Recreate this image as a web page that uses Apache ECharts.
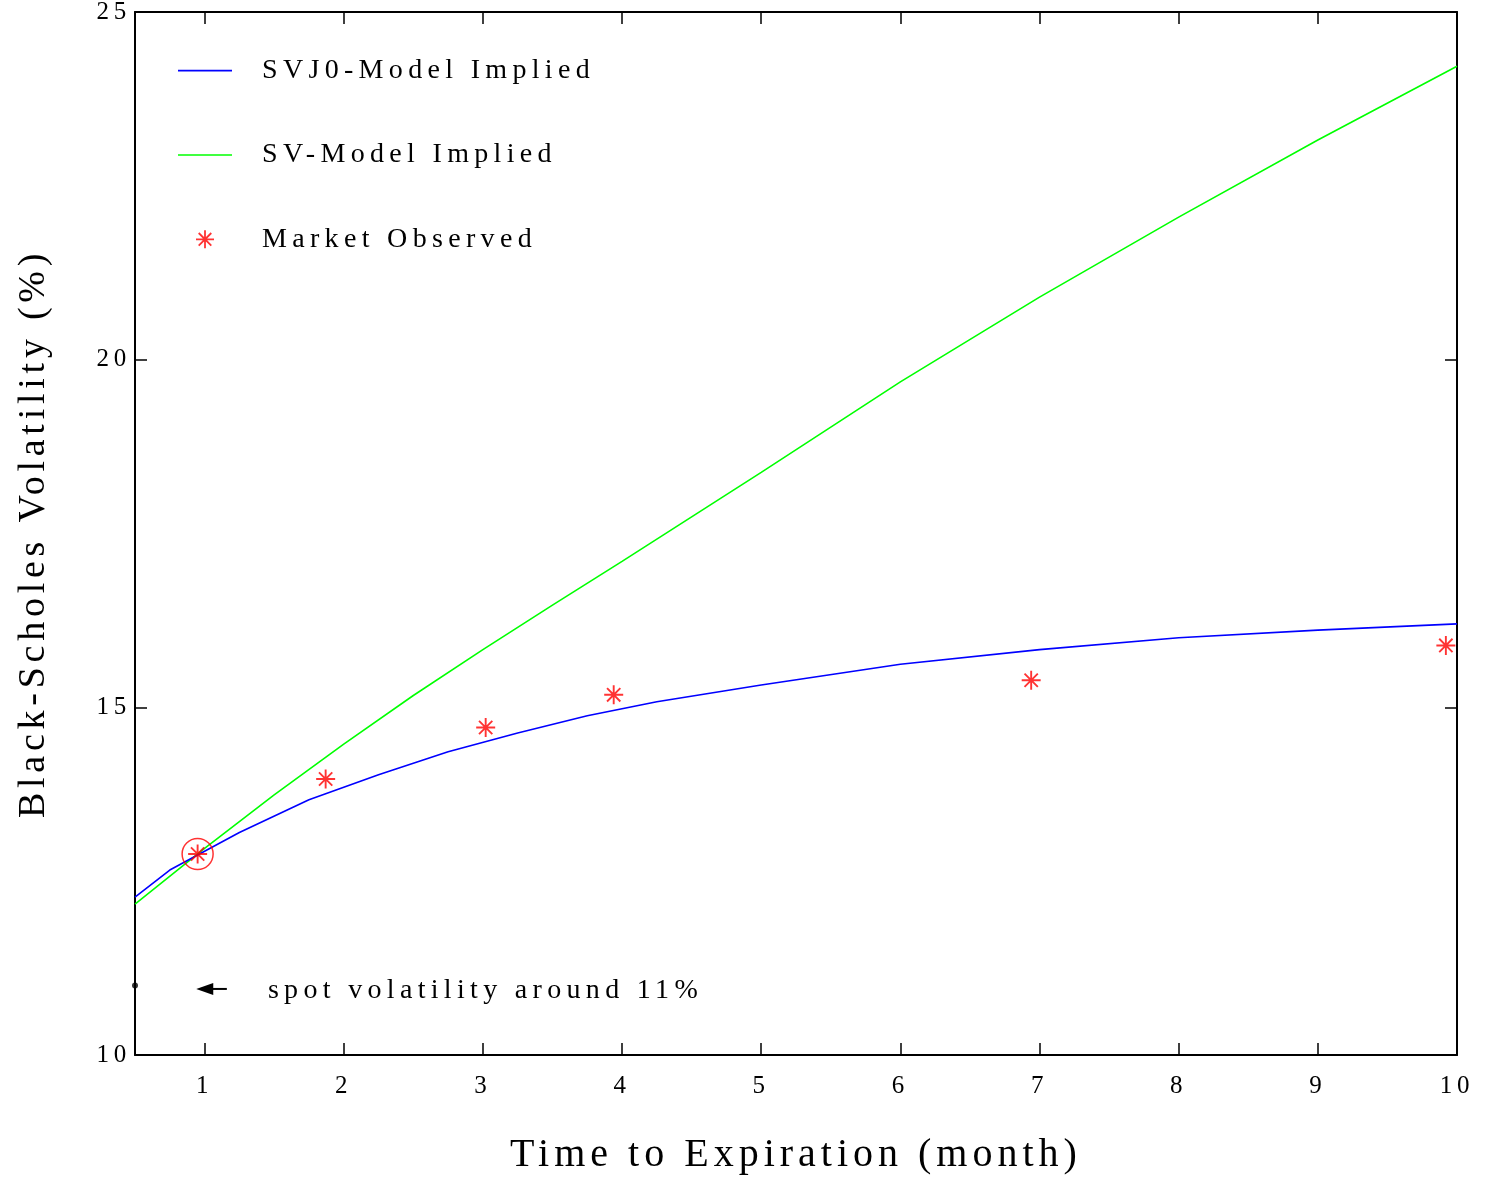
<!DOCTYPE html>
<html>
<head>
<meta charset="utf-8">
<script src="https://cdn.jsdelivr.net/npm/echarts@6/dist/echarts.min.js"></script>
<style>
  html, body { margin: 0; padding: 0; background: #fff; }
  #chart { width: 1487px; height: 1179px; }
</style>
</head>
<body>
<div id="chart"></div>
<script>
// Widely tracked lettering: spacing follows the font size (a little tighter for
// the big axis titles); measurement and drawing share it so alignment holds.
['fillText', 'strokeText', 'measureText'].forEach(function (fn) {
  const orig = CanvasRenderingContext2D.prototype[fn];
  CanvasRenderingContext2D.prototype[fn] = function () {
    const m = /(\d+(?:\.\d+)?)px/.exec(this.font || '');
    const size = m ? parseFloat(m[1]) : 12;
    const ratio = size >= 34 ? 0.125 : 0.19;
    this.letterSpacing = (size * ratio).toFixed(2) + 'px';
    return orig.apply(this, arguments);
  };
});

// ---- data ----
const svj0Months = [0.5, 0.75, 1.0, 1.25, 1.75, 2.25, 2.75, 3.25, 3.75, 4.25, 5, 6, 7, 8, 9, 10];
const svj0Vol    = [12.27, 12.66, 12.93, 13.2, 13.67, 14.03, 14.36, 14.63, 14.88, 15.08, 15.32, 15.62, 15.83, 16.0, 16.11, 16.2];

const svMonths = [0.5, 1.0, 1.5, 2.0, 2.5, 3.0, 3.5, 4.0, 4.5, 5.0, 5.5, 6.0, 7.0, 8.0, 9.0, 10.0];
const svVol    = [12.17, 12.97, 13.74, 14.47, 15.17, 15.83, 16.47, 17.1, 17.74, 18.38, 19.03, 19.68, 20.9, 22.05, 23.16, 24.22];

const marketMonths = [0.95, 1.87, 3.02, 3.94, 6.94, 9.92];
const marketVol    = [12.89, 13.97, 14.71, 15.18, 15.39, 15.89];

const spotMonth = 0.5;
const spotVol = 11;

const monthTicks = [1, 2, 3, 4, 5, 6, 7, 8, 9, 10];
const volTicks = [10, 15, 20, 25];

const seriesNames = ['SVJ0-Model Implied', 'SV-Model Implied', 'Market Observed'];
const spotNote = 'spot volatility around 11%';

// ---- helpers ----
function zip(xs, ys) { return xs.map(function (x, i) { return [x, ys[i]]; }); }

// eight-armed asterisk marker built from four filled bars
const STAR = 'path://' +
  'M-1,-10L1,-10L1,10L-1,10Z' +
  'M-10,-1L10,-1L10,1L-10,1Z' +
  'M-6.29,-7.71L7.71,6.29L6.29,7.71L-7.71,-6.29Z' +
  'M-7.71,6.29L6.29,-7.71L7.71,-6.29L-6.29,7.71Z';

// plain line sample for the legend
const LINE_ICON = 'path://M0,0L54,0L54,1.6L0,1.6Z';

const FONT = 'Liberation Serif';
const black = '#000';

function frameAxis(extra) {
  return Object.assign({
    type: 'value',
    axisLine: { show: true, onZero: false, lineStyle: { color: black, width: 2 } },
    axisTick: { show: true, inside: true, length: 12, lineStyle: { color: black, width: 1.5 } },
    splitLine: { show: false }
  }, extra);
}

const chart = echarts.init(document.getElementById('chart'), null, { renderer: 'canvas' });

const option = {
  animation: false,
  backgroundColor: '#fff',
  textStyle: { fontFamily: FONT, color: black },
  grid: { left: 135, right: 30, top: 12, bottom: 124, containLabel: false, outerBoundsMode: 'none' },
  legend: {
    orient: 'vertical',
    left: 178,
    top: 54,
    padding: 0,
    itemWidth: 54,
    itemHeight: 18,
    itemGap: 51,
    selectedMode: false,
    textStyle: { fontFamily: FONT, fontSize: 28, lineHeight: 26, color: black, padding: [0, 0, 0, 25] },
    data: [
      { name: seriesNames[0], icon: LINE_ICON },
      { name: seriesNames[1], icon: LINE_ICON },
      { name: seriesNames[2], icon: STAR }
    ]
  },
  xAxis: [
    frameAxis({
      min: 0.5, max: 10, position: 'bottom',
      axisTick: { show: true, inside: true, length: 12, customValues: monthTicks, lineStyle: { color: black, width: 1.5 } },
      axisLabel: { customValues: monthTicks, fontFamily: FONT, fontSize: 25, color: black, margin: 17 },
      name: 'Time to Expiration (month)',
      nameLocation: 'middle',
      nameGap: 78,
      nameTextStyle: { fontFamily: FONT, fontSize: 40, color: black }
    }),
    frameAxis({
      min: 0.5, max: 10, position: 'top',
      axisTick: { show: true, inside: true, length: 12, customValues: monthTicks, lineStyle: { color: black, width: 1.5 } },
      axisLabel: { show: false }
    })
  ],
  yAxis: [
    frameAxis({
      min: 10, max: 25, interval: 5, position: 'left',
      axisLabel: { customValues: volTicks, fontFamily: FONT, fontSize: 25, color: black, margin: 4 },
      name: 'Black-Scholes Volatility (%)',
      nameLocation: 'middle',
      nameGap: 80,
      nameTextStyle: { fontFamily: FONT, fontSize: 38, color: black }
    }),
    frameAxis({
      min: 10, max: 25, interval: 5, position: 'right',
      axisLabel: { show: false }
    })
  ],
  series: [
    {
      name: seriesNames[0],
      type: 'line',
      data: zip(svj0Months, svj0Vol),
      symbol: 'none',
      color: '#0000ff',
      lineStyle: { color: '#0000ff', width: 1.6 },
      z: 3
    },
    {
      name: seriesNames[1],
      type: 'line',
      data: zip(svMonths, svVol),
      symbol: 'none',
      color: '#00ff00',
      lineStyle: { color: '#00ff00', width: 1.6 },
      z: 2
    },
    {
      name: seriesNames[2],
      type: 'scatter',
      data: zip(marketMonths, marketVol),
      symbol: STAR,
      symbolSize: 19,
      itemStyle: { color: '#ff0000' },
      clip: false,
      z: 4
    },
    {
      // ring highlighting the one-month quote
      name: 'ring',
      type: 'scatter',
      data: [[marketMonths[0], marketVol[0]]],
      symbol: 'circle',
      symbolSize: 31,
      itemStyle: { color: 'rgba(0,0,0,0)', borderColor: '#ff0000', borderWidth: 1.5 },
      silent: true,
      z: 4
    },
    {
      name: 'spot',
      type: 'scatter',
      data: [[spotMonth, spotVol]],
      symbol: 'circle',
      symbolSize: 6,
      itemStyle: { color: black },
      clip: false,
      silent: true,
      z: 5
    }
  ]
};

chart.setOption(option);

// arrow and note pointing at the spot level on the axis
const tip  = chart.convertToPixel({ gridIndex: 0 }, [0.94, 10.95]);
const tail = chart.convertToPixel({ gridIndex: 0 }, [1.16, 10.95]);
const note = chart.convertToPixel({ gridIndex: 0 }, [1.455, 10.92]);

chart.setOption({
  graphic: [
    {
      type: 'line',
      shape: { x1: tail[0], y1: tail[1], x2: tip[0] + 10, y2: tip[1] },
      style: { stroke: black, lineWidth: 2 },
      z: 10
    },
    {
      type: 'polygon',
      shape: { points: [[tip[0], tip[1]], [tip[0] + 17, tip[1] - 6], [tip[0] + 17, tip[1] + 6]] },
      style: { fill: black },
      z: 10
    },
    {
      type: 'text',
      x: note[0],
      y: note[1],
      style: {
        text: spotNote,
        fontFamily: FONT,
        fontSize: 28,
        fill: black,
        align: 'left',
        verticalAlign: 'middle'
      },
      z: 10
    }
  ]
});
</script>
</body>
</html>
